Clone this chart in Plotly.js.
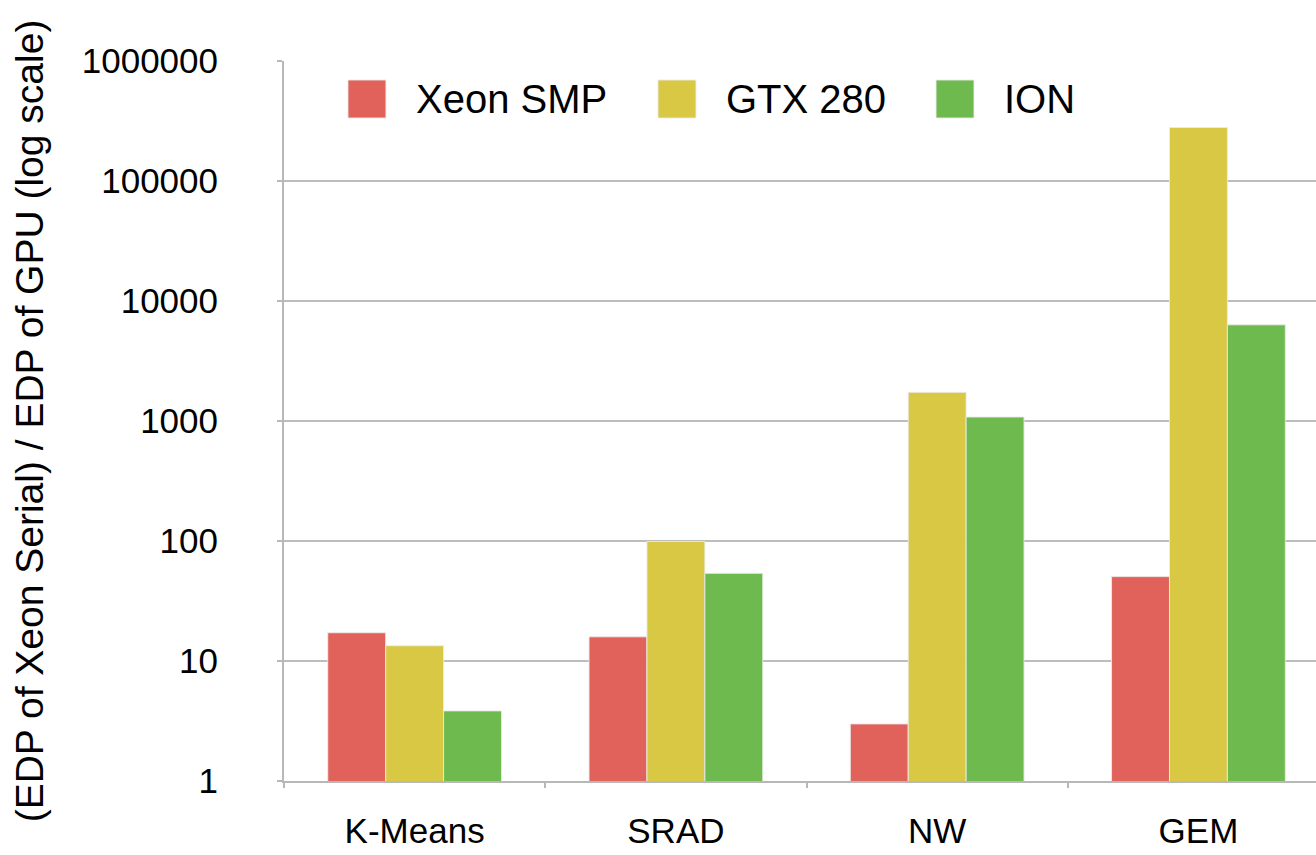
<!DOCTYPE html>
<html>
<head>
<meta charset="utf-8">
<script src="https://cdn.plot.ly/plotly-3.0.1.min.js"></script>
<style>html,body{margin:0;padding:0;background:#fff;overflow:hidden;}#chart{width:1316px;height:855px;}</style>
</head>
<body>
<div id="chart"></div>
<script>
const categories = ["K-Means", "SRAD", "NW", "GEM"];
const seriesNames = ["Xeon SMP", "GTX 280", "ION"];
const xeonSMP = [17.2, 15.9, 2.99, 50.5];
const gtx280 = [13.4, 99, 1734, 279000];
const ion = [3.84, 53.8, 1080, 6330];
const tickValues = [1, 10, 100, 1000, 10000, 100000, 1000000];
const tickLabels = ["1", "10", "100", "1000", "10000", "100000", "1000000"];
const yTitle = "(EDP of Xeon Serial) / EDP of GPU (log scale)";

const colors = ["#E0625A", "#D9C843", "#6EBA4F"];
const seriesValues = [xeonSMP, gtx280, ion];
const FONT = "Liberation Sans, Arial, Helvetica, sans-serif";

const traces = seriesValues.map((vals, i) => ({
  type: "bar",
  name: seriesNames[i],
  x: categories,
  y: vals,
  marker: {color: colors[i], line: {color: "rgba(235,235,235,0.9)", width: 1}},
  showlegend: false,
  hoverinfo: "x+y+name"
}));

// manual legend (big squares)
const legendX = [0.062, 0.3624, 0.6318];
const sq = 0.0368;
const shapes = [];
const annotations = [];
seriesNames.forEach((n, i) => {
  shapes.push({type: "rect", xref: "paper", yref: "paper",
    x0: legendX[i], x1: legendX[i] + sq, y0: 0.9208, y1: 0.9736,
    fillcolor: colors[i], line: {color: "rgba(235,235,235,0.9)", width: 1}});
  annotations.push({xref: "paper", yref: "paper", x: legendX[i] + sq + 0.027, y: 0.9472,
    xanchor: "left", yanchor: "middle", text: n, showarrow: false,
    font: {family: FONT, size: 40, color: "#000"}});
});

const layout = {
  width: 1316, height: 855,
  margin: {l: 284, r: 0, t: 61, b: 74},
  paper_bgcolor: "#fff", plot_bgcolor: "#fff",
  font: {family: FONT, size: 35, color: "#000"},
  barmode: "group",
  bargap: 0.335,
  bargroupgap: 0,
  xaxis: {
    type: "category",
    range: [-0.5, 3.45],
    showline: true, linecolor: "#b8b8b8", linewidth: 2,
    ticks: "outside", tickson: "boundaries", ticklen: 5, tickcolor: "#b8b8b8", tickwidth: 2,
    showgrid: false,
    ticklabelstandoff: 18,
    tickfont: {family: FONT, size: 35, color: "#000"}
  },
  yaxis: {
    type: "log",
    range: [0, 6],
    tickvals: tickValues, ticktext: tickLabels,
    showline: true, linecolor: "#b8b8b8", linewidth: 2,
    ticks: "outside", ticklen: 5, tickcolor: "#b8b8b8", tickwidth: 2,
    showgrid: true, gridcolor: "#bdbdbd", gridwidth: 2,
    zeroline: false,
    ticklabelstandoff: 52,
    tickfont: {family: FONT, size: 35, color: "#000"},
    title: {text: yTitle, font: {family: FONT, size: 39, color: "#000"}, standoff: 26}
  },
  shapes: shapes,
  annotations: annotations
};

Plotly.newPlot("chart", traces, layout, {displayModeBar: false, staticPlot: true});
</script>
</body>
</html>
